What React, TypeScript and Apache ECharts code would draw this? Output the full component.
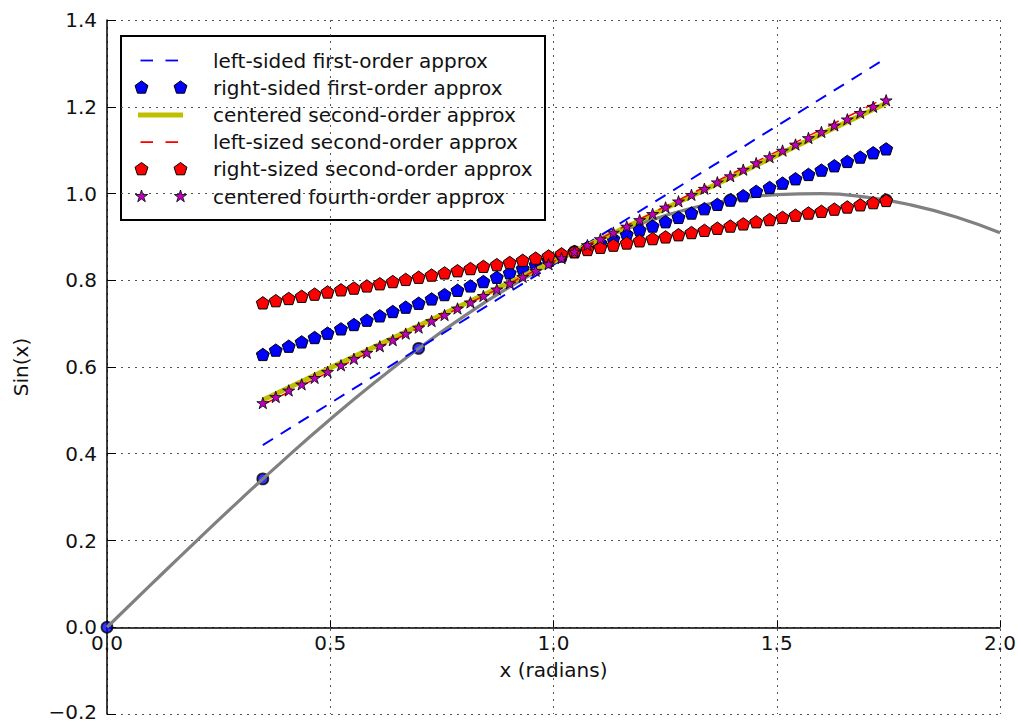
import React, { useEffect, useRef } from "react";
import * as echarts from "echarts";

// ---- data ----
const sineX = [0, 0.1, 0.2, 0.3, 0.4, 0.5, 0.6, 0.7, 0.8, 0.9, 1.0, 1.1, 1.2, 1.3, 1.4, 1.5, 1.6, 1.7, 1.8, 1.9, 2.0];
const sineY = [0, 0.0998, 0.1987, 0.2955, 0.3894, 0.4794, 0.5646, 0.6442, 0.7174, 0.7833, 0.8415, 0.8912, 0.932, 0.9636, 0.9854, 0.9975, 0.9996, 0.9917, 0.9738, 0.9463, 0.9093];

const nodeX = [0, 0.349, 0.698, 1.047, 1.396, 1.745];
const nodeY = [0, 0.342, 0.643, 0.866, 0.985, 0.985];

const approxX = [
  0.349, 0.378, 0.407, 0.436, 0.465, 0.494, 0.524, 0.553, 0.582, 0.611,
  0.64, 0.669, 0.698, 0.727, 0.756, 0.785, 0.814, 0.843, 0.873, 0.902,
  0.931, 0.96, 0.989, 1.018, 1.047, 1.076, 1.105, 1.134, 1.164, 1.193,
  1.222, 1.251, 1.28, 1.309, 1.338, 1.367, 1.396, 1.425, 1.454, 1.484,
  1.513, 1.542, 1.571, 1.6, 1.629, 1.658, 1.687, 1.716, 1.745,
];
const rightFirstY = [
  0.629, 0.639, 0.648, 0.658, 0.668, 0.678, 0.688, 0.698, 0.708, 0.718,
  0.728, 0.738, 0.747, 0.757, 0.767, 0.777, 0.787, 0.797, 0.807, 0.817,
  0.827, 0.836, 0.846, 0.856, 0.866, 0.876, 0.886, 0.896, 0.906, 0.916,
  0.925, 0.935, 0.945, 0.955, 0.965, 0.975, 0.985, 0.995, 1.005, 1.014,
  1.024, 1.034, 1.044, 1.054, 1.064, 1.074, 1.084, 1.094, 1.103,
];
const rightSecondY = [
  0.748, 0.753, 0.758, 0.763, 0.768, 0.773, 0.778, 0.782, 0.787, 0.792,
  0.797, 0.802, 0.807, 0.812, 0.817, 0.822, 0.827, 0.832, 0.836, 0.841,
  0.846, 0.851, 0.856, 0.861, 0.866, 0.871, 0.876, 0.881, 0.886, 0.891,
  0.896, 0.9, 0.905, 0.91, 0.915, 0.92, 0.925, 0.93, 0.935, 0.94,
  0.945, 0.95, 0.955, 0.959, 0.964, 0.969, 0.974, 0.979, 0.984,
];
const centeredFourthY = [
  0.517, 0.531, 0.546, 0.56, 0.575, 0.589, 0.604, 0.619, 0.633, 0.648,
  0.662, 0.677, 0.691, 0.706, 0.72, 0.735, 0.749, 0.764, 0.779, 0.793,
  0.808, 0.822, 0.837, 0.851, 0.866, 0.881, 0.895, 0.91, 0.924, 0.939,
  0.953, 0.968, 0.982, 0.997, 1.011, 1.026, 1.04, 1.055, 1.07, 1.084,
  1.099, 1.113, 1.128, 1.142, 1.157, 1.171, 1.186, 1.2, 1.215,
];
const lineEndsX = [0.349, 1.745];
const leftFirstY = [0.42, 1.312];
const centeredSecondY = [0.524, 1.208];
const leftSecondY = [0.513, 1.221];

const legendLabels = [
  "left-sided first-order approx",
  "right-sided first-order approx",
  "centered second-order approx",
  "left-sized second-order approx",
  "right-sized second-order approx",
  "centered fourth-order approx",
];

const xTicks = { min: 0, max: 2, interval: 0.5 };
const yTicks = { min: -0.2, max: 1.4, interval: 0.2 };

// ---- styles ----
const FONT = "DejaVu Sans";
const BLUE = "#0000ff";
const RED = "#ff0000";
const YELLOW = "#bfbf00";
const MAGENTA = "#bf00bf";
const PENTAGON = "path://M0,-10L9.511,-3.09L5.878,8.09L-5.878,8.09L-9.511,-3.09Z";
const STAR =
  "path://M0,-10L2.245,-3.09L9.511,-3.09L3.633,1.18L5.878,8.09L0,3.82L-5.878,8.09L-3.633,1.18L-9.511,-3.09L-2.245,-3.09Z";

const GRID_TOP = 20;
const GRID_BOTTOM = 9;
const CHART_H = 723;

const zip = (xs: number[], ys: number[]) => xs.map((x, i) => [x, ys[i]]);

function pentagonPts(cx: number, cy: number, r: number) {
  const pts: number[][] = [];
  for (let k = 0; k < 5; k++) {
    const a = (-90 + 72 * k) * (Math.PI / 180);
    pts.push([cx + r * Math.cos(a), cy + r * Math.sin(a)]);
  }
  return pts;
}
function starPts(cx: number, cy: number, r: number) {
  const pts: number[][] = [];
  for (let k = 0; k < 10; k++) {
    const a = (-90 + 36 * k) * (Math.PI / 180);
    const rr = k % 2 === 0 ? r : r * 0.382;
    pts.push([cx + rr * Math.cos(a), cy + rr * Math.sin(a)]);
  }
  return pts;
}

function buildLegend() {
  const left = 121, top = 36, w = 424, h = 184;
  const rowY0 = 60.5, rowDy = 27.2;
  const sx1 = 141.5, sx2 = 180.5;
  const children: any[] = [
    { type: "rect", shape: { x: left, y: top, width: w, height: h }, style: { fill: "#fff", stroke: "#000", lineWidth: 2 } },
  ];
  legendLabels.forEach((label, i) => {
    const cy = rowY0 + rowDy * i;
    if (i === 0 || i === 3) {
      const c = i === 0 ? BLUE : RED;
      children.push({ type: "line", shape: { x1: 140.5, y1: cy, x2: 153, y2: cy }, style: { stroke: c, lineWidth: 1.8 } });
      children.push({ type: "line", shape: { x1: 165.5, y1: cy, x2: 178, y2: cy }, style: { stroke: c, lineWidth: 1.8 } });
    } else if (i === 1 || i === 4) {
      const c = i === 1 ? BLUE : RED;
      [sx1, sx2].forEach((sx) =>
        children.push({ type: "polygon", shape: { points: pentagonPts(sx, cy, 6.8) }, style: { fill: c, stroke: "#000", lineWidth: 1 } })
      );
    } else if (i === 2) {
      children.push({ type: "line", shape: { x1: 138, y1: cy, x2: 183, y2: cy }, style: { stroke: YELLOW, lineWidth: 5 } });
    } else {
      [sx1, sx2].forEach((sx) =>
        children.push({ type: "polygon", shape: { points: starPts(sx, cy, 6.5) }, style: { fill: MAGENTA, stroke: "#000", lineWidth: 0.8 } })
      );
    }
    children.push({
      type: "text",
      x: 213,
      y: cy,
      style: { text: label, font: `20px '${FONT}'`, fill: "#111", textVerticalAlign: "middle", verticalAlign: "middle" },
    });
  });
  return [{ type: "group", z: 100, children }];
}

const fmt = (v: number) => v.toFixed(1).replace("-", "\u2212");
const fmtY = (v: number) => (v === yTicks.min ? `{lo|${fmt(v)}}` : fmt(v));

export default function App() {
  const ref = useRef<HTMLDivElement>(null);
  useEffect(() => {
    document.body.style.margin = "0";
    if (!ref.current) return;
    const chart = echarts.init(ref.current, null, { renderer: "svg" });
    const gridLine = { show: true, lineStyle: { color: "#555", width: 1, type: [2, 5] as any } };
    // pixel distance from the bottom of the plot (y = min) up to y = 0
    const plotH = CHART_H - GRID_TOP - GRID_BOTTOM;
    const zeroOffset = ((0 - yTicks.min) / (yTicks.max - yTicks.min)) * plotH;
    chart.setOption({
      animation: false,
      backgroundColor: "#fff",
      textStyle: { fontFamily: FONT },
      grid: { left: 107, right: 18, top: GRID_TOP, bottom: GRID_BOTTOM, containLabel: false, outerBoundsMode: "none" },
      xAxis: {
        type: "value",
        min: xTicks.min,
        max: xTicks.max,
        interval: xTicks.interval,
        position: "bottom",
        offset: -zeroOffset,
        name: "x (radians)",
        nameLocation: "middle",
        nameGap: 33,
        nameTextStyle: { fontSize: 20, color: "#111", fontFamily: FONT },
        axisLine: { show: true, onZero: false, lineStyle: { color: "#000", width: 1.5 } },
        axisTick: { show: true, inside: true, length: 7, lineStyle: { color: "#000", width: 1 } },
        axisLabel: { fontSize: 20, color: "#111", margin: 6, fontFamily: FONT, formatter: fmt },
        splitLine: gridLine,
      },
      yAxis: {
        type: "value",
        min: yTicks.min,
        max: yTicks.max,
        interval: yTicks.interval,
        name: "Sin(x)",
        nameLocation: "middle",
        nameGap: 76,
        nameTextStyle: { fontSize: 20, color: "#111", fontFamily: FONT },
        axisLine: { show: true, onZero: false, lineStyle: { color: "#000", width: 1.5 } },
        axisTick: { show: true, inside: true, length: 9, lineStyle: { color: "#000", width: 1 } },
        axisLabel: {
          fontSize: 20,
          color: "#111",
          margin: 10,
          fontFamily: FONT,
          formatter: fmtY,
          rich: { lo: { fontSize: 20, lineHeight: 18, color: "#111", fontFamily: FONT, padding: [0, 0, 5, 0] } },
        },
        splitLine: gridLine,
      },
      graphic: buildLegend(),
      series: [
        {
          type: "scatter",
          data: zip(nodeX, nodeY),
          symbol: "circle",
          symbolSize: 11,
          itemStyle: { color: BLUE, borderColor: "#000", borderWidth: 1.8 },
          z: 1,
        },
        {
          type: "line",
          data: zip(sineX, sineY),
          smooth: true,
          showSymbol: false,
          lineStyle: { color: "#808080", width: 3.2 },
          z: 2,
        },
        {
          type: "line",
          data: zip(lineEndsX, leftFirstY),
          showSymbol: false,
          lineStyle: { color: BLUE, width: 2, type: [12, 9] as any },
          z: 3,
        },
        {
          type: "line",
          data: zip(approxX, rightFirstY),
          symbol: PENTAGON,
          symbolSize: 13,
          symbolKeepAspect: true,
          showAllSymbol: true,
          lineStyle: { width: 0, opacity: 0 },
          itemStyle: { color: BLUE, borderColor: "#000", borderWidth: 1 },
          z: 4,
        },
        {
          type: "line",
          data: zip(lineEndsX, centeredSecondY),
          showSymbol: false,
          lineStyle: { color: YELLOW, width: 5 },
          z: 5,
        },
        {
          type: "line",
          data: zip(lineEndsX, leftSecondY),
          showSymbol: false,
          lineStyle: { color: RED, width: 1.5, type: [12, 9] as any },
          z: 6,
        },
        {
          type: "line",
          data: zip(approxX, rightSecondY),
          symbol: PENTAGON,
          symbolSize: 13,
          symbolKeepAspect: true,
          showAllSymbol: true,
          lineStyle: { width: 0, opacity: 0 },
          itemStyle: { color: RED, borderColor: "#000", borderWidth: 1 },
          z: 7,
        },
        {
          type: "line",
          data: zip(approxX, centeredFourthY),
          symbol: STAR,
          symbolSize: 12,
          symbolKeepAspect: true,
          showAllSymbol: true,
          lineStyle: { width: 0, opacity: 0 },
          itemStyle: { color: MAGENTA, borderColor: "#000", borderWidth: 0.8 },
          z: 8,
        },
      ],
    });
    return () => chart.dispose();
  }, []);
  return <div ref={ref} style={{ width: 1018, height: 723 }} />;
}
